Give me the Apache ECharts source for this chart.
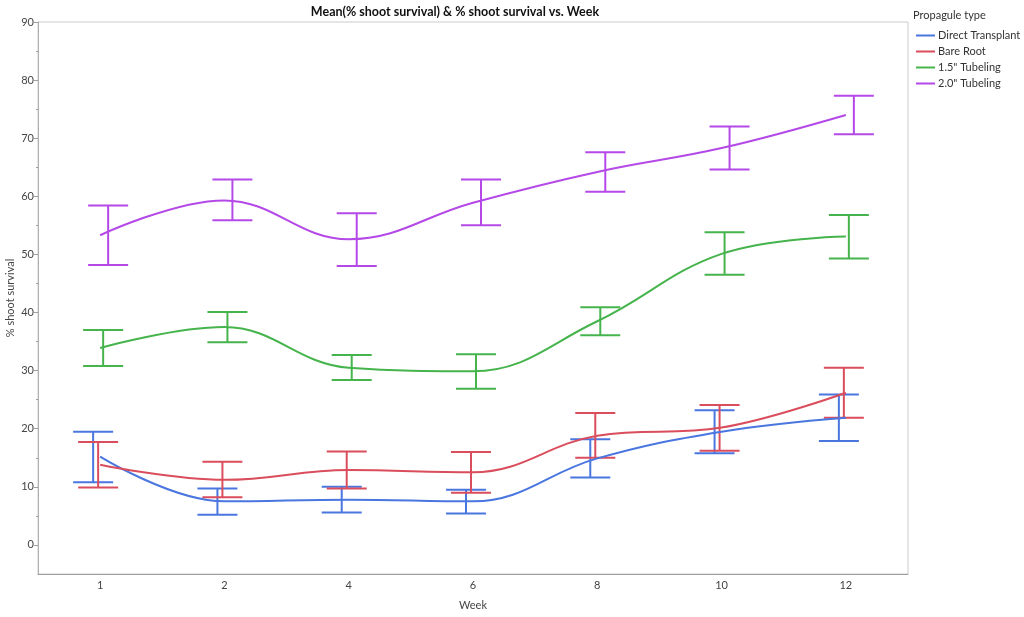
<!DOCTYPE html>
<html><head><meta charset="utf-8">
<script src="https://cdn.jsdelivr.net/npm/echarts@6/dist/echarts.min.js"></script>
<style>html,body{margin:0;padding:0;background:#fff}#c{width:1024px;height:617px}</style>
</head><body><div id="c"></div>
<script>
const weeks = ['1','2','4','6','8','10','12'];
const seriesNames = ['Direct Transplant','Bare Root','1.5" Tubeling','2.0" Tubeling'];
const colors = ['#4a76e0','#da4d5c','#46b44c','#b449e8'];
// means
const meanDirect = [15.2, 7.5, 7.8, 7.5, 14.9, 19.5, 21.9];
const meanBare   = [13.8, 11.2, 12.9, 12.5, 18.8, 20.2, 26.2];
const mean15     = [33.9, 37.5, 30.5, 29.9, 38.5, 50.1, 53.1];
const mean20     = [53.3, 59.3, 52.6, 58.9, 64.2, 68.3, 74.0];
// error bar lows / highs
const lowDirect  = [10.8, 5.2, 5.6, 5.4, 11.6, 15.8, 17.9];
const highDirect = [19.5, 9.7, 10.0, 9.5, 18.2, 23.2, 25.9];
const lowBare    = [9.9, 8.2, 9.7, 9.0, 15.0, 16.2, 21.9];
const highBare   = [17.7, 14.3, 16.1, 16.0, 22.7, 24.1, 30.5];
const low15      = [30.8, 34.9, 28.4, 26.9, 36.1, 46.5, 49.3];
const high15     = [37.0, 40.1, 32.7, 32.8, 40.9, 53.8, 56.8];
const low20      = [48.2, 55.9, 48.0, 55.0, 60.8, 64.6, 70.7];
const high20     = [58.4, 62.9, 57.1, 62.9, 67.6, 72.0, 77.3];
const yLabels = [0,10,20,30,40,50,60,70,80,90];
const yMinor = [5,15,25,35,45,55,65,75,85];

const means = [meanDirect, meanBare, mean15, mean20];
const lows = [lowDirect, lowBare, low15, low20];
const highs = [highDirect, highBare, high15, high20];
const dodge = [-7, -2, 3, 8];
const FONT = 'Lato';

const chart = echarts.init(document.getElementById('c'));
const series = [];
seriesNames.forEach((name, s) => {
  series.push({
    name, type: 'line', data: means[s], smooth: 0.4, showSymbol: false,
    lineStyle: {color: colors[s], width: 2}, itemStyle: {color: colors[s]}, z: 3
  });
  series.push({
    name, type: 'custom', z: 2,
    data: weeks.map((w, i) => [i, lows[s][i], highs[s][i]]),
    renderItem: function (params, api) {
      const lo = api.coord([api.value(0), api.value(1)]);
      const hi = api.coord([api.value(0), api.value(2)]);
      const x = lo[0] + dodge[s];
      const hw = 20;
      const st = {stroke: colors[s], lineWidth: 2};
      return {type: 'group', children: [
        {type: 'line', shape: {x1: x, y1: lo[1], x2: x, y2: hi[1]}, style: st},
        {type: 'line', shape: {x1: x - hw, y1: lo[1], x2: x + hw, y2: lo[1]}, style: st},
        {type: 'line', shape: {x1: x - hw, y1: hi[1], x2: x + hw, y2: hi[1]}, style: st}
      ]};
    }
  });
});

chart.setOption({
  animation: false,
  textStyle: {fontFamily: FONT},
  grid: {left: 38, right: 116, top: 22, bottom: 43, show: true, borderColor: '#cccccc', borderWidth: 1,
    backgroundColor: 'transparent', containLabel: false, outerBoundsMode: 'none'},
  legend: {
    orient: 'vertical', left: 911, top: 25, itemWidth: 19, itemHeight: 2, itemGap: 5, icon: 'rect',
    data: seriesNames.map((n, i) => ({name: n, itemStyle: {color: colors[i]}})),
    textStyle: {fontSize: 11, color: '#333', fontFamily: FONT, padding: [0,0,0,-2]}
  },
  graphic: [
    {type: 'text', x: 455, y: 5, style: {text: 'Mean(% shoot survival) & % shoot survival vs. Week', textAlign: 'center', fill: '#111', fontSize: 12.5, fontWeight: 'bold', fontFamily: FONT}},
    {type: 'text', x: 913, y: 10, style: {text: 'Propagule type', fill: '#333', fontSize: 11, fontFamily: FONT}}
  ],
  xAxis: {
    type: 'category', data: weeks, boundaryGap: true,
    axisLine: {onZero: false, lineStyle: {color: '#a0a0a0'}}, axisTick: {show: false},
    axisLabel: {fontSize: 11, color: '#444', margin: 6},
    name: 'Week', nameLocation: 'middle', nameGap: 26, nameTextStyle: {fontSize: 11, color: '#444'}
  },
  yAxis: [{
    type: 'value', min: -5, max: 90, interval: 5,
    axisLine: {show: true, lineStyle: {color: '#b0b0b0'}},
    axisTick: {show: true, length: 4, customValues: yLabels, lineStyle: {color: '#a0a0a0'}},
    axisLabel: {fontSize: 11, color: '#444', margin: 4, customValues: yLabels,
      formatter: v => (v >= 0 && v % 10 === 0) ? String(v) : ''},
    splitLine: {show: false},
    name: '% shoot survival', nameLocation: 'middle', nameGap: 22, nameMoveOverlap: false,
    nameTextStyle: {fontSize: 11, color: '#444'}
  }, {
    type: 'value', min: -5, max: 90, interval: 5, position: 'left',
    axisLine: {show: false}, axisLabel: {show: false}, splitLine: {show: false},
    axisTick: {show: true, length: 2, customValues: yMinor, lineStyle: {color: '#a0a0a0'}}
  }],
  series
});
</script></body></html>
